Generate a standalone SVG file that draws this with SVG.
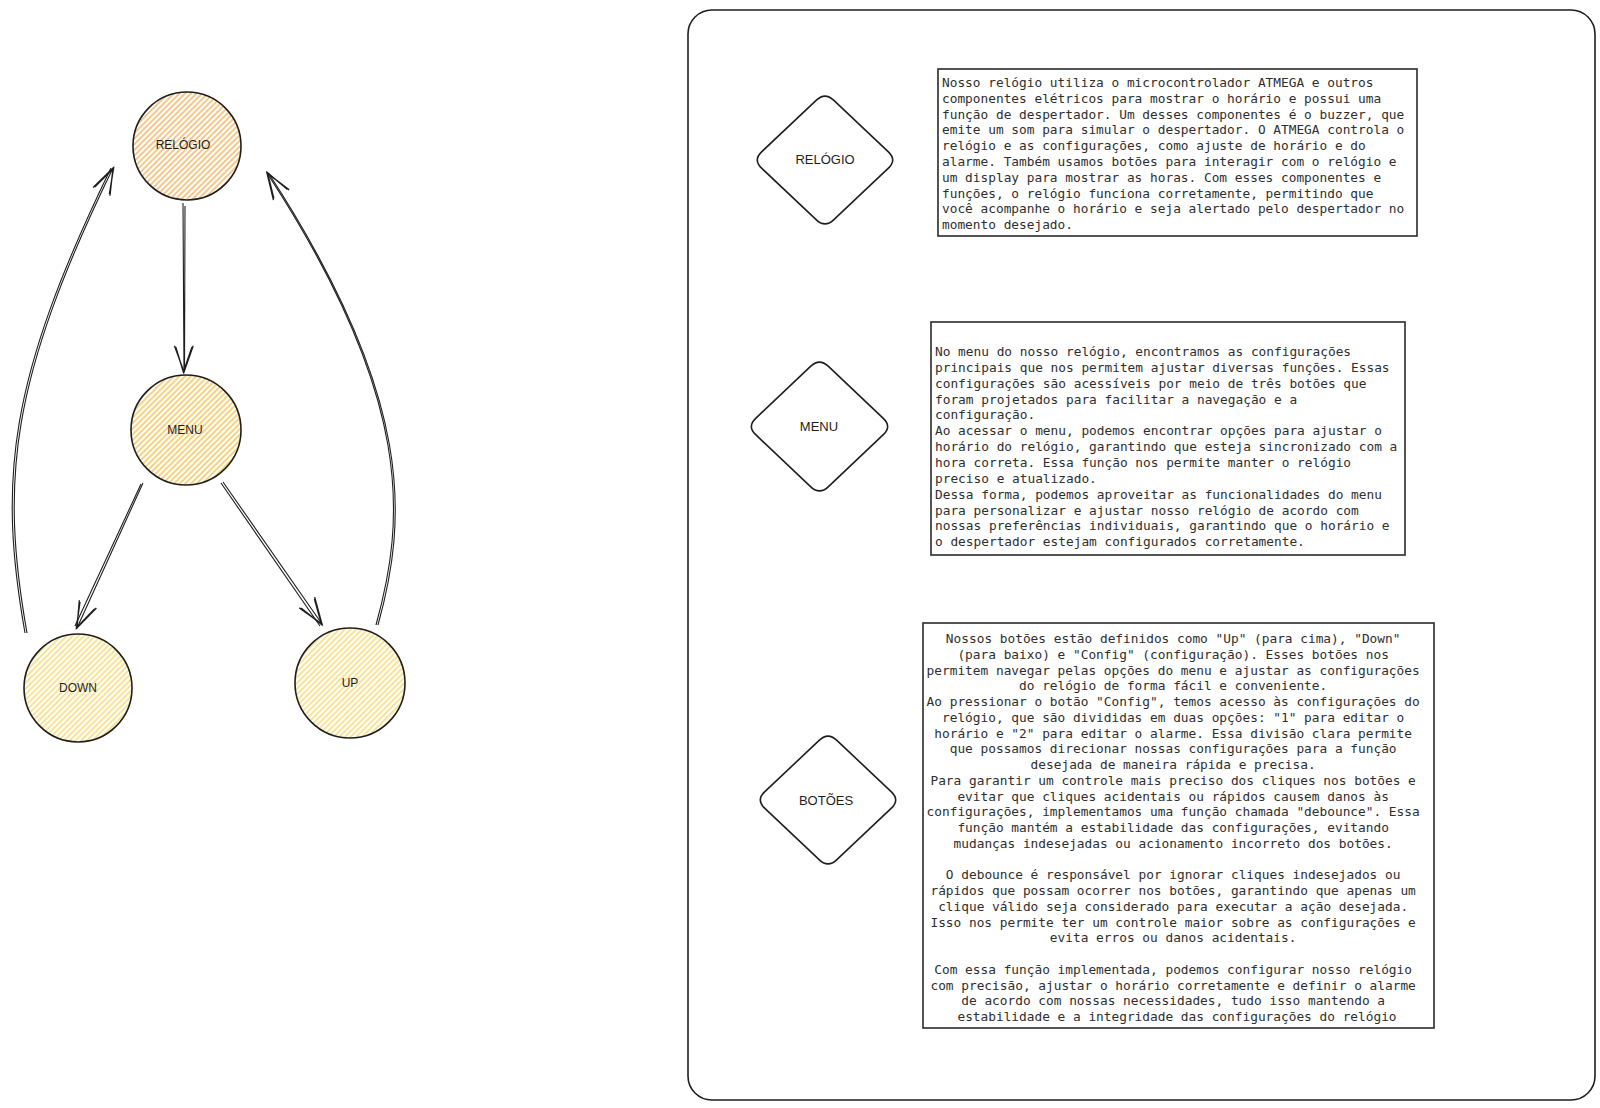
<svg xmlns="http://www.w3.org/2000/svg" width="1600" height="1108" viewBox="0 0 1600 1108">
<style>
.node-c{stroke:#1e1e1e;stroke-width:1.6}
.lbl{font-family:"Liberation Sans",Arial,sans-serif;font-size:12px;fill:#1e1e1e;text-anchor:middle;dominant-baseline:central}
.dlbl{font-family:"Liberation Sans",Arial,sans-serif;font-size:13px;fill:#1e1e1e;text-anchor:middle;dominant-baseline:central}
.dia{fill:#fff;stroke:#1e1e1e;stroke-width:1.6}
.box{fill:#fff;stroke:#2a2a2a;stroke-width:1.6}
.body{font-family:"DejaVu Sans Mono","Liberation Mono",monospace;font-size:12.8px;fill:#2e2e2e}
.conn{fill:none;stroke:#1e1e1e;stroke-width:1.1;marker-end:url(#ah)}
</style>
<defs>
<pattern id="hOrange" patternUnits="userSpaceOnUse" width="4" height="4" patternTransform="rotate(45)"><rect width="4" height="4" fill="#fff"/><line x1="1" y1="0" x2="1" y2="4" stroke="#f5b563" stroke-width="1.5"/></pattern>
<pattern id="hAmber" patternUnits="userSpaceOnUse" width="4" height="4" patternTransform="rotate(45)"><rect width="4" height="4" fill="#fff"/><line x1="1" y1="0" x2="1" y2="4" stroke="#f5c454" stroke-width="1.5"/></pattern>
<pattern id="hYellow" patternUnits="userSpaceOnUse" width="4" height="4" patternTransform="rotate(45)"><rect width="4" height="4" fill="#fff"/><line x1="1" y1="0" x2="1" y2="4" stroke="#f8da72" stroke-width="1.5"/></pattern>
<marker id="ah" markerUnits="userSpaceOnUse" markerWidth="40" markerHeight="40" refX="0" refY="0" viewBox="-30 -15 32 30" orient="auto" overflow="visible">
<path d="M-21,-7.5 L0,0 L-21,7.5 M-20,-6.5 L0,0.5 L-20,6.5" fill="none" stroke="#1e1e1e" stroke-width="1.1"/>
</marker>
</defs>

<rect id="frame" x="688" y="10" width="907" height="1090" rx="24" fill="none" stroke="#1e1e1e" stroke-width="1.6"/>

<g id="connectors">
<path class="conn" d="M185,206 L184.5,371 M183,203 L184,372"/>
<path class="conn" d="M141,484 L75,626 M143,483 L77,628"/>
<path class="conn" d="M221,483 L320,626 M223,482 L322,624"/>
<path class="conn" d="M25,633 C-2,480 8,380 111,168 M27,633 C0,480 10,380 113,168"/>
<path class="conn" d="M378,625 C407,520 416,400 268.5,173 M376,625 C405,520 415,400 267,173"/>
</g>

<g id="node-relogio">
<circle class="node-c" cx="187" cy="146" r="54" fill="url(#hOrange)"/>
<text class="lbl" x="183" y="145">RELÓGIO</text>
</g>
<g id="node-menu">
<circle class="node-c" cx="186" cy="430" r="55" fill="url(#hAmber)"/>
<text class="lbl" x="185" y="430">MENU</text>
</g>
<g id="node-down">
<circle class="node-c" cx="78" cy="688" r="54" fill="url(#hYellow)"/>
<text class="lbl" x="78" y="688">DOWN</text>
</g>
<g id="node-up">
<circle class="node-c" cx="350" cy="683" r="55" fill="url(#hYellow)"/>
<text class="lbl" x="350" y="683">UP</text>
</g>

<g id="diamond-relogio">
<path class="dia" d="M833.6,100.2 L888.4,151.8 Q897,160 888.4,168.2 L833.6,219.8 Q825,228 816.4,219.8 L761.6,168.2 Q753,160 761.6,151.8 L816.4,100.2 Q825,92 833.6,100.2 Z"/>
<text class="dlbl" x="825" y="159">RELÓGIO</text>
</g>
<g id="diamond-menu">
<path class="dia" d="M828.2,366.2 L883.3,418.3 Q892,426.5 883.3,434.7 L828.2,486.8 Q819.5,495 810.8,486.8 L755.7,434.7 Q747,426.5 755.7,418.3 L810.8,366.2 Q819.5,358 828.2,366.2 Z"/>
<text class="dlbl" x="819" y="426">MENU</text>
</g>
<g id="diamond-botoes">
<path class="dia" d="M836.6,740.2 L891.4,791.8 Q900,800 891.4,808.2 L836.6,859.8 Q828,868 819.4,859.8 L764.6,808.2 Q756,800 764.6,791.8 L819.4,740.2 Q828,732 836.6,740.2 Z"/>
<text class="dlbl" x="826" y="800">BOTÕES</text>
</g>

<g id="text-relogio">
<rect class="box" x="938" y="69" width="479" height="167"/>
<text class="body">
<tspan x="942" y="87">Nosso relógio utiliza o microcontrolador ATMEGA e outros</tspan>
<tspan x="942" y="102.8">componentes elétricos para mostrar o horário e possui uma</tspan>
<tspan x="942" y="118.6">função de despertador. Um desses componentes é o buzzer, que</tspan>
<tspan x="942" y="134.4">emite um som para simular o despertador. O ATMEGA controla o</tspan>
<tspan x="942" y="150.2">relógio e as configurações, como ajuste de horário e do</tspan>
<tspan x="942" y="166">alarme. Também usamos botões para interagir com o relógio e</tspan>
<tspan x="942" y="181.8">um display para mostrar as horas. Com esses componentes e</tspan>
<tspan x="942" y="197.6">funções, o relógio funciona corretamente, permitindo que</tspan>
<tspan x="942" y="213.4">você acompanhe o horário e seja alertado pelo despertador no</tspan>
<tspan x="942" y="229.2">momento desejado.</tspan>
</text>
</g>

<g id="text-menu">
<rect class="box" x="931" y="322" width="474" height="233"/>
<text class="body">
<tspan x="935" y="356">No menu do nosso relógio, encontramos as configurações</tspan>
<tspan x="935" y="371.85">principais que nos permitem ajustar diversas funções. Essas</tspan>
<tspan x="935" y="387.7">configurações são acessíveis por meio de três botões que</tspan>
<tspan x="935" y="403.55">foram projetados para facilitar a navegação e a</tspan>
<tspan x="935" y="419.4">configuração.</tspan>
<tspan x="935" y="435.25">Ao acessar o menu, podemos encontrar opções para ajustar o</tspan>
<tspan x="935" y="451.1">horário do relógio, garantindo que esteja sincronizado com a</tspan>
<tspan x="935" y="466.95">hora correta. Essa função nos permite manter o relógio</tspan>
<tspan x="935" y="482.8">preciso e atualizado.</tspan>
<tspan x="935" y="498.65">Dessa forma, podemos aproveitar as funcionalidades do menu</tspan>
<tspan x="935" y="514.5">para personalizar e ajustar nosso relógio de acordo com</tspan>
<tspan x="935" y="530.35">nossas preferências individuais, garantindo que o horário e</tspan>
<tspan x="935" y="546.2">o despertador estejam configurados corretamente.</tspan>
</text>
</g>

<g id="text-botoes">
<rect class="box" x="923" y="623" width="511" height="405"/>
<text class="body" text-anchor="middle">
<tspan x="1177" y="643">Nossos botões estão definidos como "Up" (para cima), "Down"</tspan>
<tspan x="1177" y="658.75">(para baixo) e "Config" (configuração). Esses botões nos</tspan>
<tspan x="1177" y="674.5">permitem navegar pelas opções do menu e ajustar as configurações</tspan>
<tspan x="1177" y="690.25">do relógio de forma fácil e conveniente.</tspan>
<tspan x="1177" y="706">Ao pressionar o botão "Config", temos acesso às configurações do</tspan>
<tspan x="1177" y="721.75">relógio, que são divididas em duas opções: "1" para editar o</tspan>
<tspan x="1177" y="737.5">horário e "2" para editar o alarme. Essa divisão clara permite</tspan>
<tspan x="1177" y="753.25">que possamos direcionar nossas configurações para a função</tspan>
<tspan x="1177" y="769">desejada de maneira rápida e precisa.</tspan>
<tspan x="1177" y="784.75">Para garantir um controle mais preciso dos cliques nos botões e</tspan>
<tspan x="1177" y="800.5">evitar que cliques acidentais ou rápidos causem danos às</tspan>
<tspan x="1177" y="816.25">configurações, implementamos uma função chamada "debounce". Essa</tspan>
<tspan x="1177" y="832">função mantém a estabilidade das configurações, evitando</tspan>
<tspan x="1177" y="847.75">mudanças indesejadas ou acionamento incorreto dos botões.</tspan>
<tspan x="1177" y="879.25">O debounce é responsável por ignorar cliques indesejados ou</tspan>
<tspan x="1177" y="895">rápidos que possam ocorrer nos botões, garantindo que apenas um</tspan>
<tspan x="1177" y="910.75">clique válido seja considerado para executar a ação desejada.</tspan>
<tspan x="1177" y="926.5">Isso nos permite ter um controle maior sobre as configurações e</tspan>
<tspan x="1177" y="942.25">evita erros ou danos acidentais.</tspan>
<tspan x="1177" y="973.75">Com essa função implementada, podemos configurar nosso relógio</tspan>
<tspan x="1177" y="989.5">com precisão, ajustar o horário corretamente e definir o alarme</tspan>
<tspan x="1177" y="1005.25">de acordo com nossas necessidades, tudo isso mantendo a</tspan>
<tspan x="1177" y="1021">estabilidade e a integridade das configurações do relógio</tspan>
</text>
</g>
</svg>
